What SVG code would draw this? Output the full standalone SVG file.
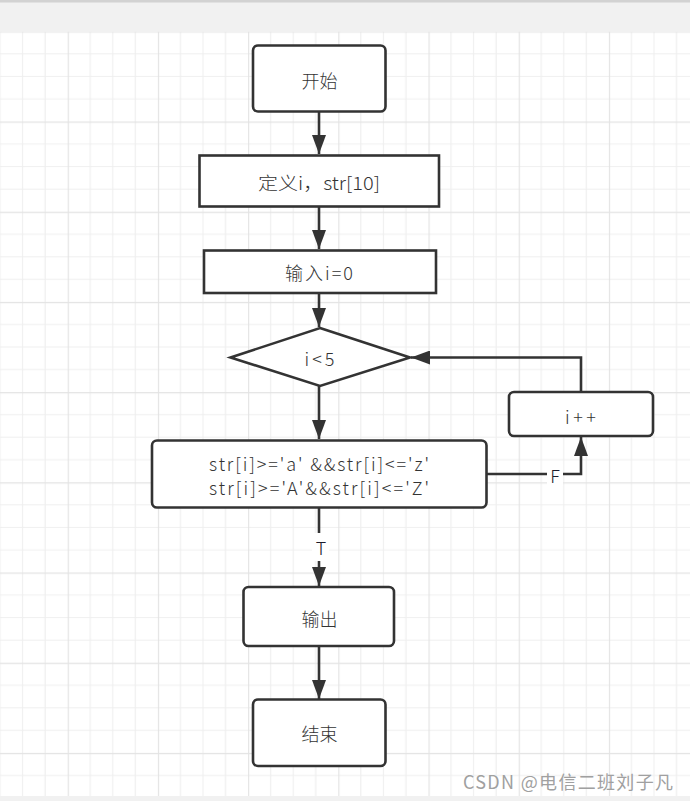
<svg xmlns="http://www.w3.org/2000/svg" width="690" height="801" viewBox="0 0 690 801">
<style>
  .node{fill:#ffffff;stroke:#333333;stroke-width:2.6;}
  .t{font-family:"Noto Sans CJK SC","Liberation Sans",sans-serif;font-size:18px;font-weight:300;fill:#333333;text-anchor:middle;dominant-baseline:central;}
  .edge{fill:none;stroke:#333333;stroke-width:2.6;}
  .lbl{font-family:"Noto Sans CJK SC","Liberation Sans",sans-serif;font-size:18px;font-weight:300;text-anchor:middle;dominant-baseline:central;fill:#1c1c2c;}
  .wm{font-family:"Noto Sans CJK SC","Liberation Sans",sans-serif;font-size:18px;fill:#a0a0a0;dominant-baseline:central;}
</style>
<defs>
  <pattern id="grid" patternUnits="userSpaceOnUse" x="67.7" y="31.3" width="90.2" height="90.2">
    <path d="M22.55,0V90.2M45.1,0V90.2M67.65,0V90.2M0,22.55H90.2M0,45.1H90.2M0,67.65H90.2" stroke="#efefef" stroke-width="1.2" fill="none"/>
    <path d="M0.5,0V90.2M0,0.5H90.2" stroke="#e3e3e3" stroke-width="1.3" fill="none"/>
  </pattern>
  <marker id="arr" markerUnits="userSpaceOnUse" markerWidth="20" markerHeight="14" refX="19" refY="7" orient="auto" viewBox="0 0 20 14">
    <path d="M0,0 L19,7 L0,14 Z" fill="#333333"/>
  </marker>
</defs>
<rect x="0" y="0" width="690" height="801" fill="#f1f1f1"/>
<rect x="0" y="0" width="690" height="2.5" fill="#d2d2d2"/>
<rect x="0" y="31.5" width="690" height="764.5" fill="#ffffff"/>
<rect x="0" y="31.5" width="690" height="764.5" fill="url(#grid)"/>

<g id="connectors">
  <path class="edge" d="M319,112V154" marker-end="url(#arr)"/>
  <path class="edge" d="M319,207V249" marker-end="url(#arr)"/>
  <path class="edge" d="M319,294V327" marker-end="url(#arr)"/>
  <path class="edge" d="M319,386V439" marker-end="url(#arr)"/>
  <path class="edge" d="M487,474H581V437" marker-end="url(#arr)"/>
  <path class="edge" d="M581,392V357.5H411" marker-end="url(#arr)"/>
  <path class="edge" d="M319,508V586" marker-end="url(#arr)"/>
  <path class="edge" d="M319,646V699" marker-end="url(#arr)"/>
  <rect x="547" y="464" width="16" height="22" fill="#ffffff"/>
  <text class="lbl" x="555" y="475">F</text>
  <rect x="312" y="533" width="17" height="28" fill="#ffffff"/>
  <text class="lbl" x="321" y="547">T</text>
</g>

<g id="start">
  <rect class="node" x="253" y="45.5" width="132.5" height="66" rx="5"/>
  <text class="t" x="319.5" y="80" font-size="19">开始</text>
</g>
<g id="define">
  <rect class="node" x="199.5" y="155.5" width="239.5" height="51"/>
  <text class="t" x="319" y="182" textLength="122" lengthAdjust="spacingAndGlyphs">定义i，str[10]</text>
</g>
<g id="input">
  <rect class="node" x="204" y="250.5" width="232" height="42.5"/>
  <text class="t" x="319" y="272" textLength="68" lengthAdjust="spacing">输入i=0</text>
</g>
<g id="cond1">
  <polygon class="node" points="320,328 410,357.5 320,386 230.5,357.5"/>
  <text class="t" x="319.5" y="358" textLength="30" lengthAdjust="spacing">i&lt;5</text>
</g>
<g id="inc">
  <rect class="node" x="509" y="392" width="144" height="44" rx="5"/>
  <text class="t" x="580.5" y="416" textLength="31" lengthAdjust="spacing">i++</text>
</g>
<g id="cond2">
  <rect class="node" x="152" y="440.5" width="334.5" height="67" rx="5"/>
  <text class="t" x="319" y="463" textLength="220" lengthAdjust="spacing">str[i]&gt;='a' &amp;&amp;str[i]&lt;='z'</text>
  <text class="t" x="319" y="487" textLength="220" lengthAdjust="spacing">str[i]&gt;='A'&amp;&amp;str[i]&lt;='Z'</text>
</g>
<g id="output">
  <rect class="node" x="243.5" y="587" width="150.5" height="59" rx="5"/>
  <text class="t" x="319.5" y="618" font-size="19">输出</text>
</g>
<g id="end">
  <rect class="node" x="253" y="699.5" width="132.5" height="66.5" rx="5"/>
  <text class="t" x="319.5" y="733" font-size="19">结束</text>
</g>
<text class="wm" x="463" y="781" textLength="210" lengthAdjust="spacing">CSDN @电信二班刘子凡</text>
</svg>
